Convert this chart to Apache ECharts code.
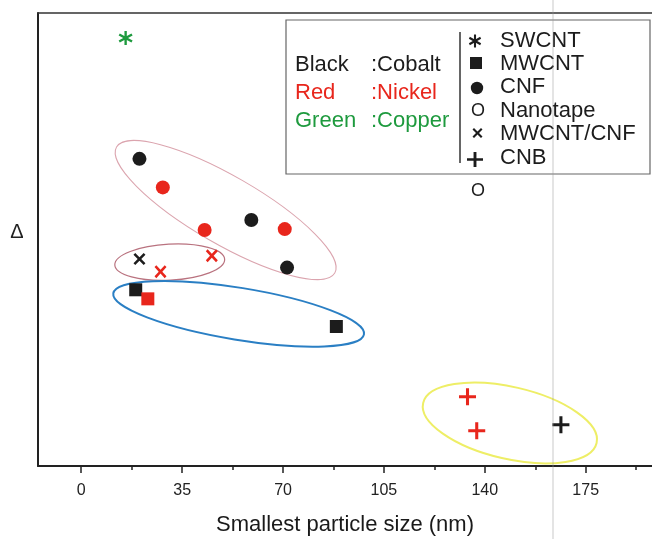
<!DOCTYPE html>
<html>
<head>
<meta charset="utf-8">
<script src="https://cdn.jsdelivr.net/npm/echarts@6/dist/echarts.min.js"></script>
<style>
  html, body { margin: 0; padding: 0; background: #fff; }
  #chart { width: 652px; height: 539px; }
</style>
</head>
<body>
<div id="chart"></div>
<script>
// Particle size (nm) vs. Δ for each catalyst / carbon-structure combination
const copperSWCNT = [[15.4, 94.5]];
const cobaltCNF   = [[20.2, 67.8], [59.0, 54.3], [71.4, 43.8]];
const nickelCNF   = [[28.3, 61.5], [42.8, 52.1], [70.6, 52.3]];
const cobaltMixed = [[20.2, 45.7]];
const nickelMixed = [[27.5, 42.9], [45.3, 46.4]];
const cobaltMWCNT = [[18.9, 38.9], [88.5, 30.8]];
const nickelMWCNT = [[23.1, 36.9]];
const nickelCNB   = [[134.0, 15.3], [137.2, 7.8]];
const cobaltCNB   = [[166.4, 9.1]];

const xTickLabels = [0, 35, 70, 105, 140, 175];
const xMinorTicks = [17.5, 52.5, 87.5, 122.5, 157.5, 192.5];

// Group outlines: centre in data units
const outlineCentres = [[50.1, 56.5], [30.7, 45.0], [54.6, 33.6], [148.7, 9.5]];
// outline shapes (pixels / degrees) and strokes
const outlineStyles = [
  { rx: 126, ry: 34, tilt: 30, color: '#dba4ae', width: 1 },
  { rx: 55, ry: 18, tilt: -3, color: '#b9727f', width: 1.2 },
  { rx: 127, ry: 26, tilt: 9.3, color: '#2a7fc4', width: 2 },
  { rx: 89, ry: 36, tilt: 13, color: '#eeee66', width: 2 }
];

const BLACK = '#1c1c1c', RED = '#e8261c', GREEN = '#1e9a3e';
const FONT = 'Liberation Sans, Arial, sans-serif';

// Marker outlines drawn in a 10x10 box
const ASTERISK_POLYS = [
  [[4.2, 0], [5.8, 0], [5.8, 10], [4.2, 10]],
  [[1.07, 1.81], [9.73, 6.81], [8.93, 8.19], [0.27, 3.19]],
  [[9.73, 3.19], [1.07, 8.19], [0.27, 6.81], [8.93, 1.81]]
];
const CROSS_POLYS = [[[0, 1.5], [1.5, 0], [5, 3.5], [8.5, 0], [10, 1.5], [6.5, 5], [10, 8.5], [8.5, 10], [5, 6.5], [1.5, 10], [0, 8.5], [3.5, 5]]];
const PLUS_POLYS = [[[4.1, 0], [5.9, 0], [5.9, 4.1], [10, 4.1], [10, 5.9], [5.9, 5.9], [5.9, 10], [4.1, 10], [4.1, 5.9], [0, 5.9], [0, 4.1], [4.1, 4.1]]];

function symbolPath(polys) {
  return 'path://' + polys.map(p => 'M' + p.map(q => q.join(',')).join(' L') + ' Z').join(' ');
}
function legendGlyph(polys, cx, cy, w, h, color) {
  return polys.map(p => ({
    type: 'polygon', z: 10,
    shape: { points: p.map(([x, y]) => [cx - w / 2 + x * w / 10, cy - h / 2 + y * h / 10]) },
    style: { fill: color }
  }));
}

const ASTERISK = symbolPath(ASTERISK_POLYS);
const CROSS = symbolPath(CROSS_POLYS);
const PLUS = symbolPath(PLUS_POLYS);

function pts(name, data, symbol, size, color) {
  return {
    name, type: 'scatter', data, symbol, symbolSize: size,
    itemStyle: { color, opacity: 1 }, z: 5, silent: true
  };
}

const chart = echarts.init(document.getElementById('chart'), null, { renderer: 'canvas' });

const legendGraphics = [
  { type: 'rect', shape: { x: 286, y: 20, width: 364, height: 154 },
    style: { fill: 'rgba(255,255,255,0)', stroke: '#666', lineWidth: 1.2 }, z: 10 },
  { type: 'line', shape: { x1: 460, y1: 32, x2: 460, y2: 163 },
    style: { stroke: '#333', lineWidth: 1.5 }, z: 10 }
];
[['Black', ':Cobalt', BLACK, 65], ['Red', ':Nickel', RED, 93], ['Green', ':Copper', GREEN, 121]]
  .forEach(([a, b, c, y]) => {
    legendGraphics.push({ type: 'text', x: 295, y, z: 10,
      style: { text: a, fill: c, fontSize: 22, fontFamily: FONT, align: 'left', verticalAlign: 'middle' } });
    legendGraphics.push({ type: 'text', x: 371, y, z: 10,
      style: { text: b, fill: c, fontSize: 22, fontFamily: FONT, align: 'left', verticalAlign: 'middle' } });
  });
[['SWCNT', 41], ['MWCNT', 64], ['CNF', 87], ['Nanotape', 111], ['MWCNT/CNF', 134], ['CNB', 158]]
  .forEach(([t, y]) => {
    legendGraphics.push({ type: 'text', x: 500, y, z: 10,
      style: { text: t, fill: BLACK, fontSize: 22, fontFamily: FONT, align: 'left', verticalAlign: 'middle' } });
  });
legendGraphics.push(
  ...legendGlyph(ASTERISK_POLYS, 475, 41, 13, 13, BLACK),
  { type: 'rect', z: 10, shape: { x: 470, y: 57, width: 12, height: 12 }, style: { fill: BLACK } },
  { type: 'circle', z: 10, shape: { cx: 477, cy: 88, r: 6.2 }, style: { fill: BLACK } },
  { type: 'text', x: 478, y: 111, z: 10, style: { text: 'O', fill: BLACK, fontSize: 18, fontFamily: FONT, align: 'center', verticalAlign: 'middle' } },
  ...legendGlyph(CROSS_POLYS, 477.5, 133, 10, 10, BLACK),
  ...legendGlyph(PLUS_POLYS, 475, 159.5, 16, 15, BLACK),
  { type: 'text', x: 478, y: 191, z: 10, style: { text: 'O', fill: BLACK, fontSize: 18, fontFamily: FONT, align: 'center', verticalAlign: 'middle' } },
  { type: 'line', z: 11, shape: { x1: 553, y1: 0, x2: 553, y2: 539 }, style: { stroke: 'rgba(150,150,150,0.35)', lineWidth: 1.5 } },
  { type: 'text', x: 17, y: 232, z: 10, style: { text: 'Δ', fill: '#222', fontSize: 20, fontFamily: FONT, align: 'center', verticalAlign: 'middle' } }
);

const option = {
  backgroundColor: '#fff',
  animation: false,
  textStyle: { fontFamily: FONT },
  grid: { left: 38, right: 0, top: 13, bottom: 73, containLabel: false, outerBoundsMode: 'none' },
  xAxis: [
    {
      type: 'value', min: -15, max: 198, position: 'bottom',
      axisLine: { onZero: false, lineStyle: { color: '#222', width: 2 } },
      axisTick: { customValues: xTickLabels, length: 7, lineStyle: { color: '#222', width: 1.5 } },
      axisLabel: { customValues: xTickLabels, fontSize: 16, color: '#222', margin: 17, fontFamily: FONT },
      splitLine: { show: false },
      name: 'Smallest particle size (nm)', nameLocation: 'middle', nameGap: 48,
      nameTextStyle: { fontSize: 22, color: '#1a1a1a', fontFamily: FONT }
    },
    {
      type: 'value', min: -15, max: 198, position: 'bottom',
      axisLine: { show: false, onZero: false },
      axisTick: { customValues: xMinorTicks, length: 4, lineStyle: { color: '#222', width: 1.5 } },
      axisLabel: { show: false }, splitLine: { show: false }
    },
    {
      type: 'value', min: -15, max: 198, position: 'top',
      axisLine: { onZero: false, lineStyle: { color: '#333', width: 1.5 } },
      axisTick: { show: false }, axisLabel: { show: false }, splitLine: { show: false }
    }
  ],
  yAxis: {
    type: 'value', min: 0, max: 100, position: 'left',
    axisLine: { show: true, onZero: false, lineStyle: { color: '#222', width: 2 } },
    axisTick: { show: false }, axisLabel: { show: false }, splitLine: { show: false }
  },
  series: [
    {
      type: 'custom', name: 'outlines', data: outlineCentres, z: 2, silent: true,
      renderItem(params, api) {
        const c = api.coord([api.value(0), api.value(1)]);
        const s = outlineStyles[params.dataIndex];
        const d = `M${-s.rx},0 A${s.rx},${s.ry} 0 1,0 ${s.rx},0 A${s.rx},${s.ry} 0 1,0 ${-s.rx},0 Z`;
        return {
          type: 'path', x: c[0], y: c[1], rotation: -s.tilt * Math.PI / 180,
          shape: { pathData: d, x: -s.rx, y: -s.ry, width: 2 * s.rx, height: 2 * s.ry, layout: 'cover' },
          style: { fill: 'none', stroke: s.color, lineWidth: s.width }
        };
      }
    },
    pts('SWCNT', copperSWCNT, ASTERISK, 14, GREEN),
    pts('CNF', cobaltCNF, 'circle', 14, BLACK),
    pts('CNF', nickelCNF, 'circle', 14, RED),
    pts('MWCNT/CNF', cobaltMixed, CROSS, [12, 12], BLACK),
    pts('MWCNT/CNF', nickelMixed, CROSS, [12, 13], RED),
    pts('MWCNT', cobaltMWCNT, 'rect', 13, BLACK),
    pts('MWCNT', nickelMWCNT, 'rect', 13, RED),
    pts('CNB', nickelCNB, PLUS, 17, RED),
    pts('CNB', cobaltCNB, PLUS, 17, BLACK)
  ],
  graphic: legendGraphics
};

chart.setOption(option);
</script>
</body>
</html>
